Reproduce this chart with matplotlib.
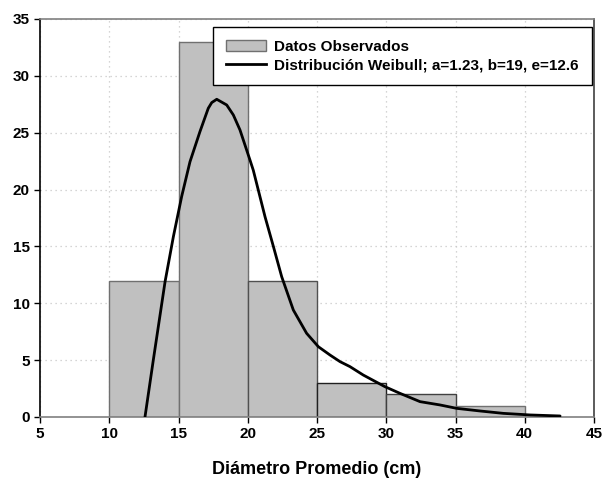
import matplotlib
matplotlib.use("Agg")
import matplotlib.pyplot as plt
from matplotlib.patches import Patch
from matplotlib.lines import Line2D

plt.rcParams['font.family'] = ['Liberation Sans', 'DejaVu Sans']
plt.rcParams['font.weight'] = 'bold'

# Histogram data (class edges and observed counts)
bin_left = [10, 15, 20, 25, 30, 35]
bin_width = 5
counts = [12, 33, 12, 3, 2, 1]

# Fitted Weibull curve
curve_x = [12.58, 13.18, 14.03, 14.63, 15.23, 15.83, 16.55, 17.15, 17.4, 17.76,
           18.48, 18.96, 19.44, 20.16, 20.4, 21.25, 21.85, 22.45, 23.29, 24.25,
           25.1, 25.94, 26.66, 27.38, 28.34, 29.9, 30.99, 32.44, 33.88, 35.09,
           36.77, 38.45, 40.38, 42.55]
curve_y = [0.0, 5.0, 11.9, 15.86, 19.4, 22.45, 25.1, 27.15, 27.65, 27.94,
           27.44, 26.56, 25.24, 22.6, 21.7, 17.6, 15.0, 12.34, 9.41, 7.36,
           6.18, 5.45, 4.87, 4.43, 3.69, 2.67, 2.08, 1.35, 1.06, 0.76,
           0.53, 0.32, 0.18, 0.09]

x_ticks = [5, 10, 15, 20, 25, 30, 35, 40, 45]
y_ticks = [0, 5, 10, 15, 20, 25, 30, 35]

label_bars = "Datos Observados"
label_curve = "Distribución Weibull; a=1.23, b=19, e=12.6"
x_label = "Diámetro Promedio (cm)"

fig = plt.figure(figsize=(6.02, 4.83), dpi=100)
ax = fig.add_axes([40/602, 1-417/483, 554/602, 398/483])

ax.set_axisbelow(True)
ax.grid(True, linestyle=(0, (1, 3)), color='#c8c8c8', linewidth=0.9)

bar_edges = ['#707070', '#707070', '#505050', '#202020', '#404040', '#707070']
ax.bar(bin_left, counts, width=bin_width, align='edge', color='#c0c0c0',
       edgecolor=bar_edges, linewidth=1.0, zorder=2)
ax.plot(curve_x, curve_y, color='black', linewidth=2.0, zorder=3,
        solid_joinstyle='round', solid_capstyle='round')

ax.set_xlim(5, 45)
ax.set_ylim(0, 35)
ax.set_xticks(x_ticks)
ax.set_yticks(y_ticks)
ax.tick_params(axis='both', labelsize=11, length=4, width=1, direction='out', colors='black')
for lab in ax.get_xticklabels() + ax.get_yticklabels():
    lab.set_fontweight('bold')

ax.spines['left'].set_color('black')
ax.spines['right'].set_color('#404040')
ax.spines['top'].set_color('#808080')
ax.spines['bottom'].set_color('#808080')
for s in ax.spines.values():
    s.set_linewidth(1.2)

ax.set_xlabel(x_label, fontsize=13, fontweight='bold', labelpad=14)

handles = [Patch(facecolor='#c0c0c0', edgecolor='#707070', linewidth=1.0),
           Line2D([0], [0], color='black', linewidth=2.0)]
leg = ax.legend(handles, [label_bars, label_curve], loc='upper right',
                bbox_to_anchor=(0.996, 0.981), borderaxespad=0, fancybox=False,
                framealpha=1, edgecolor='black', fontsize=11, handlelength=2.6,
                handleheight=0.75, labelspacing=0.3, borderpad=0.85, handletextpad=0.55)
leg.get_frame().set_linewidth(1.0)
for t in leg.get_texts():
    t.set_fontweight('bold')

fig.savefig("out.png", dpi=100)
